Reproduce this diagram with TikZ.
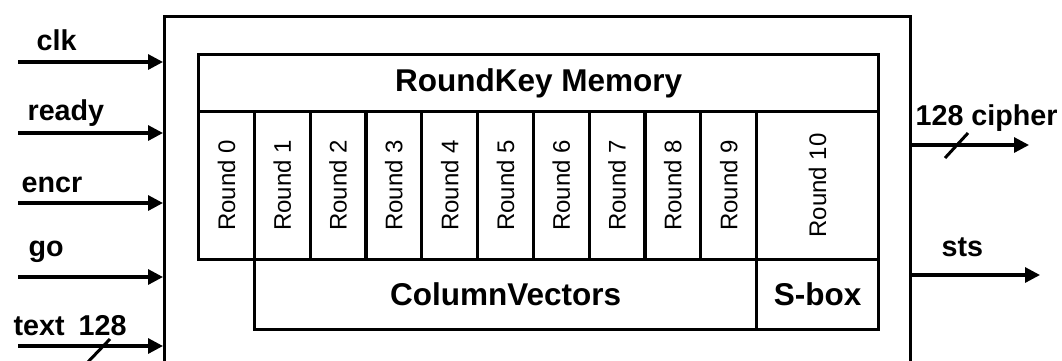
\documentclass[tikz,border=0pt]{standalone}
\usepackage{fontspec}
\setmainfont{Liberation Sans}
\usetikzlibrary{arrows.meta}
\begin{document}
\begin{tikzpicture}[x=1pt,y=-1pt,
  line width=3.2pt,
  cell/.style={draw, rectangle, inner sep=0pt, line width=3.2pt},
  roundlbl/.style={rotate=90, font=\fontsize{24}{26}\selectfont},
  biglbl/.style={font=\fontsize{31.5}{34}\selectfont\bfseries},
  sidelbl/.style={font=\fontsize{28.7}{31}\selectfont\bfseries, anchor=base west, inner sep=0pt},
  sig/.style={-{Triangle[length=15pt,width=15pt]}, line width=3.2pt},
  busmark/.style={line width=3pt}]
\useasboundingbox (0,0) rectangle (1062,360);
\clip (0,0) rectangle (1062,360);

% outer module frame (runs past the lower edge)
\node[cell, minimum width=746pt, minimum height=400pt, anchor=north west] (outer) at (163,15) {};

% key memory header
\node[cell, minimum width=680pt, minimum height=57pt, anchor=north west] (mem) at (197,53) {};
\node[biglbl] (memlbl) at (mem.center) {RoundKey Memory};

% round key slots 0..9
\foreach \i in {0,...,9}{
  \node[cell, minimum width=55.8pt, minimum height=148pt, anchor=north west] (r\i) at ({197+55.8*\i},110) {};
  \node[roundlbl] (rl\i) at (r\i.center) {Round \i};
}
\node[cell, minimum width=122pt, minimum height=148pt, anchor=north west] (r10) at (755,110) {};
\node[roundlbl] (rl10) at (r10.center) {Round 10};

% lower row
\node[cell, minimum width=502pt, minimum height=70pt, anchor=north west] (cv) at (253,258) {};
\node[biglbl] (cvlbl) at (cv.center) {ColumnVectors};
\node[cell, minimum width=122pt, minimum height=70pt, anchor=north west] (sb) at (755,258) {};
\node[biglbl] (sblbl) at (sb.center) {S-box};

% inputs
\coordinate (iclk) at (18,62);
\coordinate (iready) at (18,133);
\coordinate (iencr) at (18,203);
\coordinate (igo) at (18,277);
\coordinate (itext) at (18,346);
\draw[sig] (iclk) -- (iclk -| outer.west);
\draw[sig] (iready) -- (iready -| outer.west);
\draw[sig] (iencr) -- (iencr -| outer.west);
\draw[sig] (igo) -- (igo -| outer.west);
\draw[sig] (itext) -- (itext -| outer.west);
\node[sidelbl] (lclk) at (35,50) {clk};
\node[sidelbl] (lready) at (26,120) {ready};
\node[sidelbl] (lencr) at (20,192) {encr};
\node[sidelbl] (lgo) at (27,256) {go};
\node[sidelbl] (ltext) at (12,335) {text\hspace{14pt}128};
\coordinate (ts1) at (86,364);
\coordinate (ts2) at (110,339);
\draw[busmark] (ts1) -- (ts2);

% outputs
\coordinate (ocipher) at (1029,145);
\coordinate (osts) at (1040,275);
\draw[sig] (ocipher -| outer.east) -- (ocipher);
\draw[sig] (osts -| outer.east) -- (osts);
\node[sidelbl] (lcipher) at (914,125) {128 cipher};
\node[sidelbl] (lsts) at (940,256) {sts};
\coordinate (cs1) at (945,158);
\coordinate (cs2) at (968,133);
\draw[busmark] (cs1) -- (cs2);
\end{tikzpicture}
\end{document}
